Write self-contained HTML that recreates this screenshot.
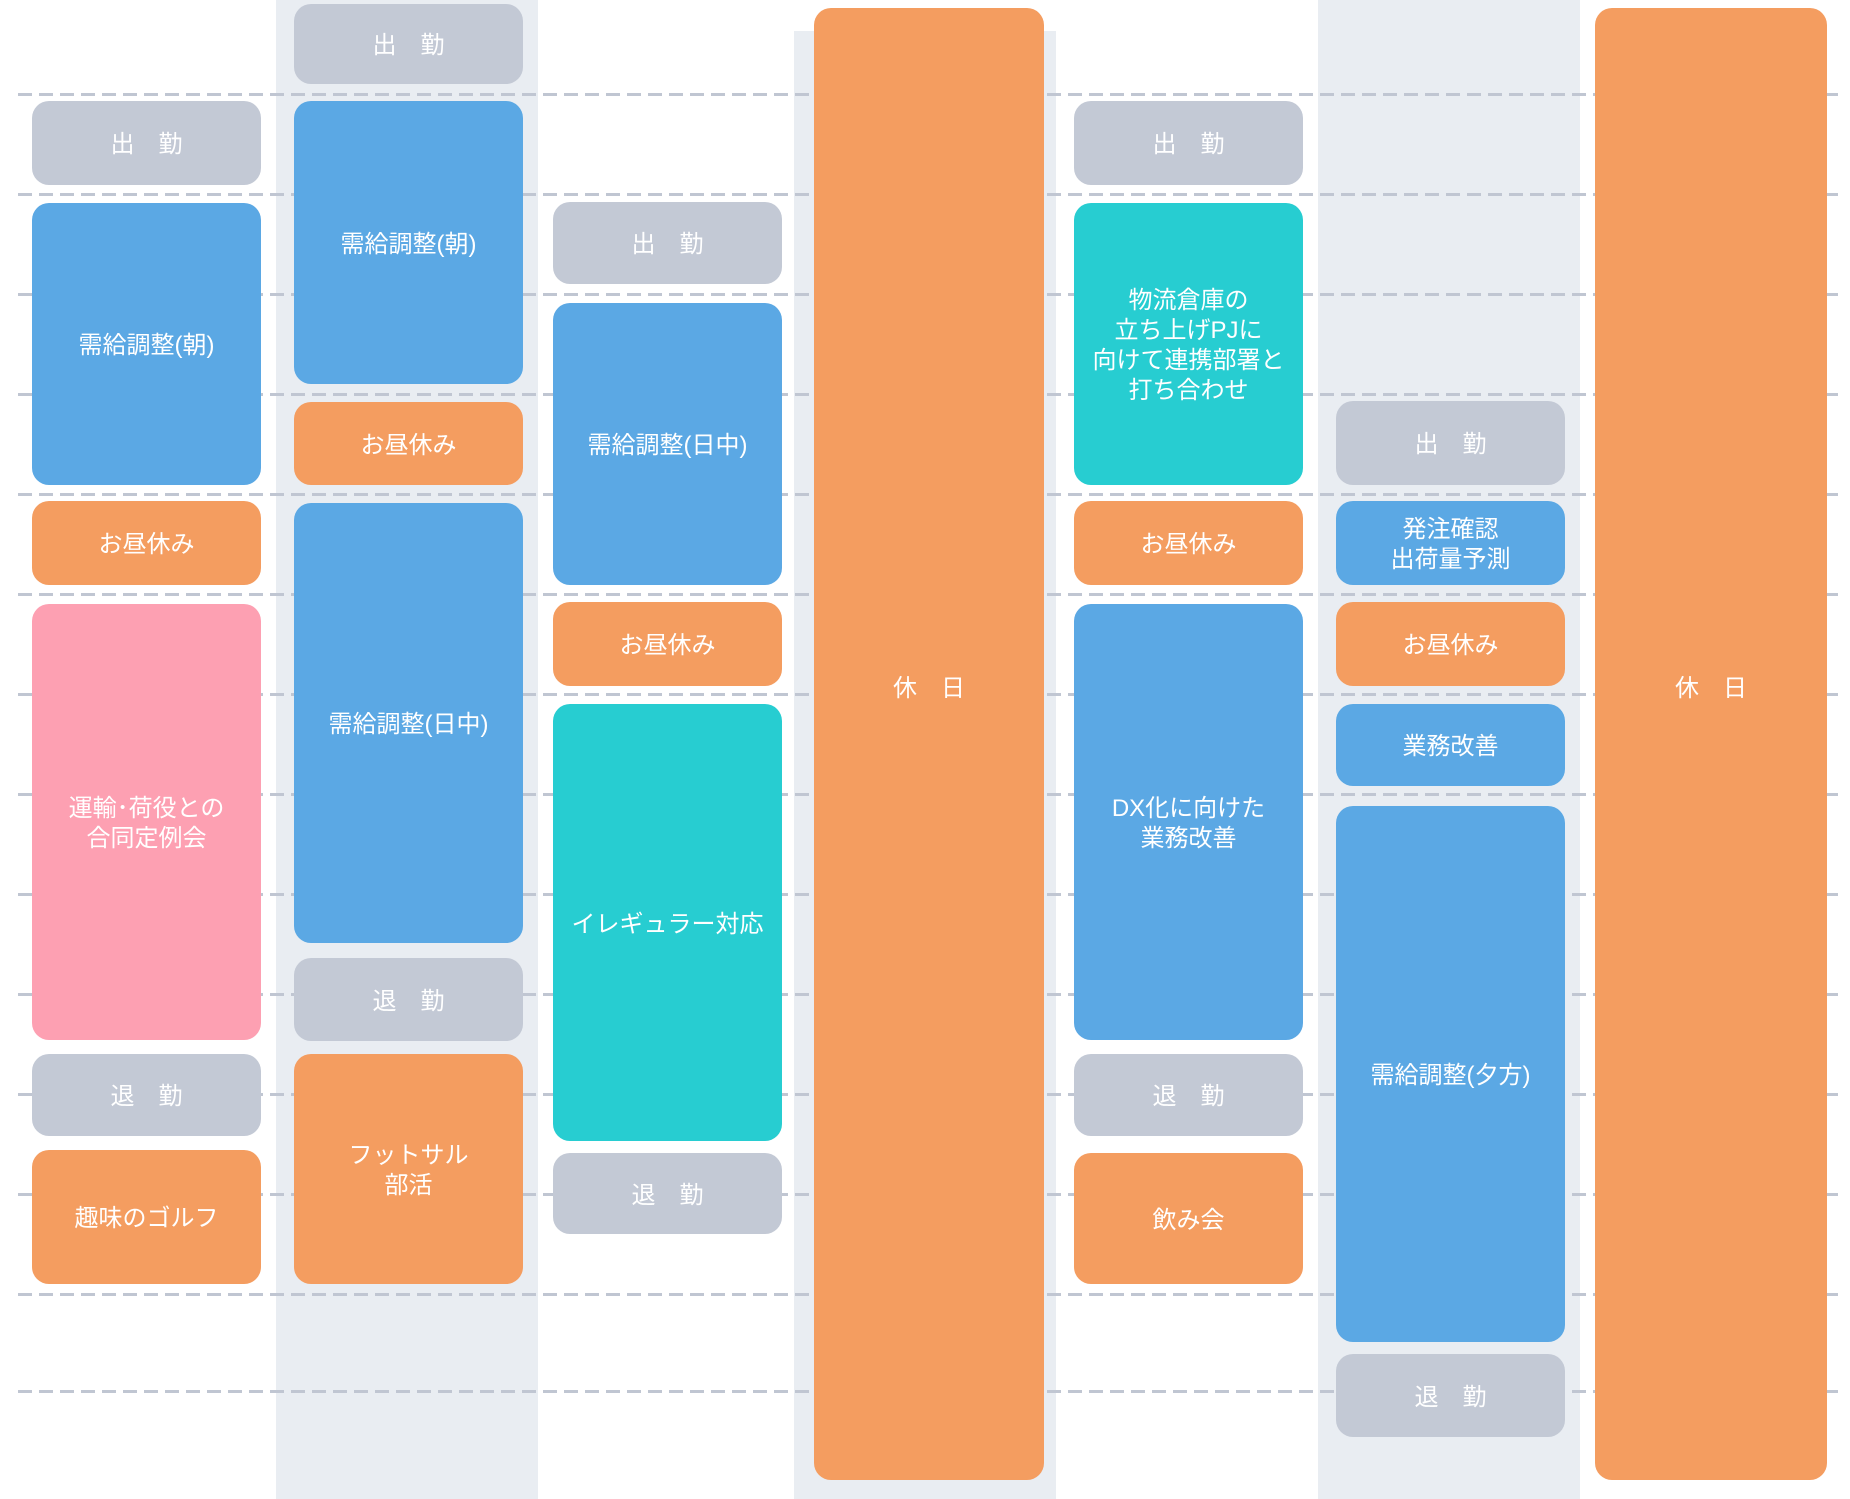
<!DOCTYPE html>
<html><head><meta charset="utf-8"><style>
html,body{margin:0;padding:0;background:#fff}
#c{position:relative;width:1850px;height:1499px;overflow:hidden;font-family:"Liberation Sans","Noto Sans CJK JP",sans-serif}
.band{position:absolute;background:#e9edf2}
.ln{position:absolute;left:18px;width:1826px;height:3px;background:repeating-linear-gradient(90deg,#c0c6d2 0 14px,transparent 14px 21px)}
.b{position:absolute;border-radius:17px;color:#fff;display:flex;align-items:center;justify-content:center;text-align:center;font-size:24px;font-weight:400;line-height:30px;padding-top:4px;box-sizing:border-box}
.g{background:#c3c9d5}.bl{background:#5ba8e4}.o{background:#f49d60}.p{background:#fda0b2}.t{background:#27cdd1}
.hol{align-items:flex-start;padding-top:666px}
</style></head><body><div id="c">
<div class="band" style="left:276px;top:0;width:262px;height:1499px"></div>
<div class="band" style="left:794px;top:31px;width:262px;height:1468px"></div>
<div class="band" style="left:1318px;top:0;width:262px;height:1499px"></div>
<div class="ln" style="top:93px"></div><div class="ln" style="top:193px"></div><div class="ln" style="top:293px"></div><div class="ln" style="top:393px"></div><div class="ln" style="top:493px"></div><div class="ln" style="top:593px"></div><div class="ln" style="top:693px"></div><div class="ln" style="top:793px"></div><div class="ln" style="top:893px"></div><div class="ln" style="top:993px"></div><div class="ln" style="top:1093px"></div><div class="ln" style="top:1193px"></div><div class="ln" style="top:1293px"></div><div class="ln" style="top:1390px"></div>

<div class="b g" style="left:32px;top:101px;width:229px;height:84px">出　勤</div>
<div class="b bl" style="left:32px;top:203px;width:229px;height:282px">需給調整(朝)</div>
<div class="b o" style="left:32px;top:501px;width:229px;height:84px">お昼休み</div>
<div class="b p" style="left:32px;top:604px;width:229px;height:436px">運輸･荷役との<br>合同定例会</div>
<div class="b g" style="left:32px;top:1054px;width:229px;height:82px">退　勤</div>
<div class="b o" style="left:32px;top:1150px;width:229px;height:134px">趣味のゴルフ</div>

<div class="b g" style="left:294px;top:4px;width:229px;height:80px">出　勤</div>
<div class="b bl" style="left:294px;top:101px;width:229px;height:283px">需給調整(朝)</div>
<div class="b o" style="left:294px;top:402px;width:229px;height:83px">お昼休み</div>
<div class="b bl" style="left:294px;top:503px;width:229px;height:440px">需給調整(日中)</div>
<div class="b g" style="left:294px;top:958px;width:229px;height:83px">退　勤</div>
<div class="b o" style="left:294px;top:1054px;width:229px;height:230px">フットサル<br>部活</div>

<div class="b g" style="left:553px;top:202px;width:229px;height:82px">出　勤</div>
<div class="b bl" style="left:553px;top:303px;width:229px;height:282px">需給調整(日中)</div>
<div class="b o" style="left:553px;top:602px;width:229px;height:84px">お昼休み</div>
<div class="b t" style="left:553px;top:704px;width:229px;height:437px">イレギュラー対応</div>
<div class="b g" style="left:553px;top:1153px;width:229px;height:81px">退　勤</div>

<div class="b o hol" style="left:814px;top:8px;width:230px;height:1472px">休　日</div>

<div class="b g" style="left:1074px;top:101px;width:229px;height:84px">出　勤</div>
<div class="b t" style="left:1074px;top:203px;width:229px;height:282px">物流倉庫の<br>立ち上げPJに<br>向けて連携部署と<br>打ち合わせ</div>
<div class="b o" style="left:1074px;top:501px;width:229px;height:84px">お昼休み</div>
<div class="b bl" style="left:1074px;top:604px;width:229px;height:436px">DX化に向けた<br>業務改善</div>
<div class="b g" style="left:1074px;top:1054px;width:229px;height:82px">退　勤</div>
<div class="b o" style="left:1074px;top:1153px;width:229px;height:131px">飲み会</div>

<div class="b g" style="left:1336px;top:401px;width:229px;height:84px">出　勤</div>
<div class="b bl" style="left:1336px;top:501px;width:229px;height:84px">発注確認<br>出荷量予測</div>
<div class="b o" style="left:1336px;top:602px;width:229px;height:84px">お昼休み</div>
<div class="b bl" style="left:1336px;top:704px;width:229px;height:82px">業務改善</div>
<div class="b bl" style="left:1336px;top:806px;width:229px;height:536px">需給調整(夕方)</div>
<div class="b g" style="left:1336px;top:1354px;width:229px;height:83px">退　勤</div>

<div class="b o hol" style="left:1595px;top:8px;width:232px;height:1472px">休　日</div>
</div></body></html>
